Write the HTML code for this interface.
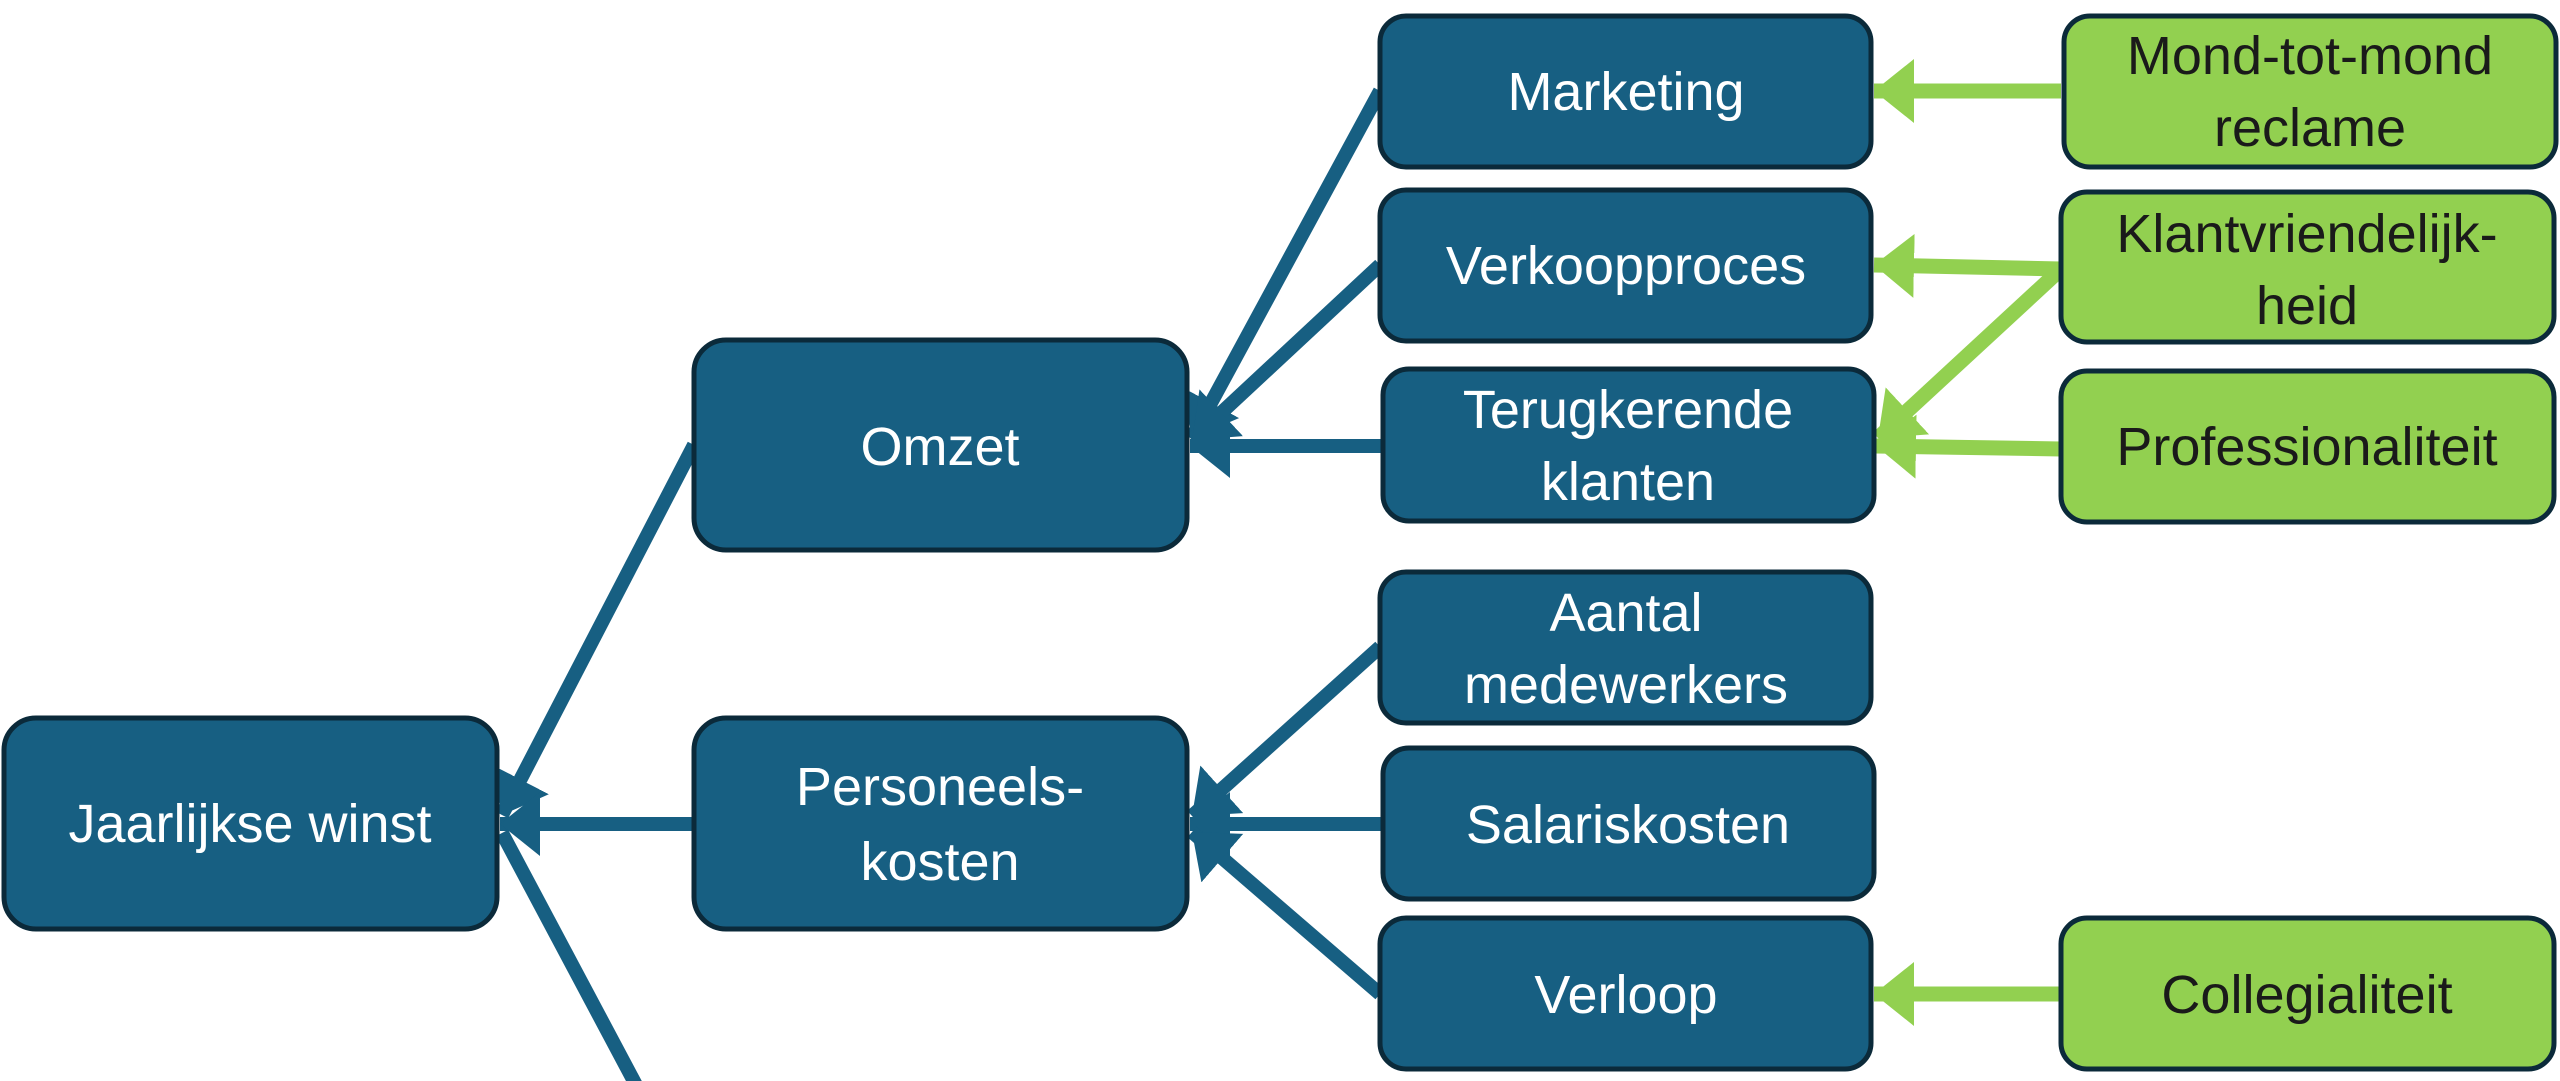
<!DOCTYPE html>
<html><head><meta charset="utf-8"><style>
html,body{margin:0;padding:0;background:#fff;width:2560px;height:1081px;overflow:hidden}
svg text{font-family:"Liberation Sans",sans-serif;font-size:54px;text-anchor:middle}
.b{fill:#175f82;stroke:#0b2a3a;stroke-width:5}
.g{fill:#92d050;stroke:#0b2a3a;stroke-width:5}
.tw{fill:#fff}.td{fill:#1a1a1a}
.lb{stroke:#175f82;stroke-width:14;fill:none}
.lg{stroke:#92d050;stroke-width:15;fill:none}
</style></head><body>
<svg width="2560" height="1081" viewBox="0 0 2560 1081" xmlns="http://www.w3.org/2000/svg">
<defs>
<marker id="ab" markerUnits="userSpaceOnUse" markerWidth="50" markerHeight="80" refX="40" refY="32" orient="auto"><polygon points="40,32 0,0 0,64" fill="#175f82"/></marker>
<marker id="ag" markerUnits="userSpaceOnUse" markerWidth="50" markerHeight="80" refX="40" refY="32" orient="auto"><polygon points="40,32 0,0 0,64" fill="#92d050"/></marker>
</defs>
<line class="lb" x1="694" y1="445" x2="502" y2="815" marker-end="url(#ab)"/>
<line class="lb" x1="694" y1="824" x2="500" y2="824" marker-end="url(#ab)"/>
<line class="lb" x1="636" y1="1085" x2="502" y2="833"/>
<line class="lb" x1="1380" y1="91" x2="1192" y2="438" marker-end="url(#ab)"/>
<line class="lb" x1="1380" y1="265" x2="1192" y2="440" marker-end="url(#ab)"/>
<line class="lb" x1="1382" y1="446" x2="1190" y2="446" marker-end="url(#ab)"/>
<line class="lb" x1="1380" y1="647" x2="1192" y2="816" marker-end="url(#ab)"/>
<line class="lb" x1="1382" y1="824" x2="1190" y2="824" marker-end="url(#ab)"/>
<line class="lb" x1="1380" y1="994" x2="1192" y2="832" marker-end="url(#ab)"/>
<line class="lg" x1="2061" y1="91" x2="1874" y2="91" marker-end="url(#ag)"/>
<line class="lg" x1="2061" y1="269" x2="1874" y2="265" marker-end="url(#ag)"/>
<line class="lg" x1="2061" y1="269" x2="1878" y2="438" marker-end="url(#ag)"/>
<line class="lg" x1="2061" y1="449" x2="1876" y2="446" marker-end="url(#ag)"/>
<line class="lg" x1="2061" y1="994" x2="1874" y2="994" marker-end="url(#ag)"/>
<rect class="b" x="4" y="718" width="493" height="211" rx="32"/>
<text class="tw" x="250" y="842">Jaarlijkse winst</text>
<rect class="b" x="694" y="340" width="493" height="210" rx="32"/>
<text class="tw" x="940" y="465">Omzet</text>
<rect class="b" x="694" y="718" width="493" height="211" rx="32"/>
<text class="tw" x="940" y="805">Personeels-</text>
<text class="tw" x="940" y="880">kosten</text>
<rect class="b" x="1380" y="16" width="491" height="151" rx="26"/>
<text class="tw" x="1626" y="110">Marketing</text>
<rect class="b" x="1380" y="190" width="491" height="151" rx="26"/>
<text class="tw" x="1626" y="284">Verkoopproces</text>
<rect class="b" x="1383" y="369" width="491" height="152" rx="26"/>
<text class="tw" x="1628" y="428">Terugkerende</text>
<text class="tw" x="1628" y="500">klanten</text>
<rect class="b" x="1380" y="572" width="491" height="151" rx="26"/>
<text class="tw" x="1626" y="631">Aantal</text>
<text class="tw" x="1626" y="703">medewerkers</text>
<rect class="b" x="1383" y="748" width="491" height="151" rx="26"/>
<text class="tw" x="1628" y="843">Salariskosten</text>
<rect class="b" x="1380" y="918" width="491" height="151" rx="26"/>
<text class="tw" x="1626" y="1013">Verloop</text>
<rect class="g" x="2064" y="16" width="492" height="151" rx="26"/>
<text class="td" x="2310" y="74">Mond-tot-mond</text>
<text class="td" x="2310" y="146">reclame</text>
<rect class="g" x="2061" y="192" width="493" height="150" rx="26"/>
<text class="td" x="2307" y="252">Klantvriendelijk-</text>
<text class="td" x="2307" y="324">heid</text>
<rect class="g" x="2061" y="371" width="493" height="151" rx="26"/>
<text class="td" x="2307" y="465">Professionaliteit</text>
<rect class="g" x="2061" y="918" width="493" height="151" rx="26"/>
<text class="td" x="2307" y="1013">Collegialiteit</text>
</svg>
</body></html>
